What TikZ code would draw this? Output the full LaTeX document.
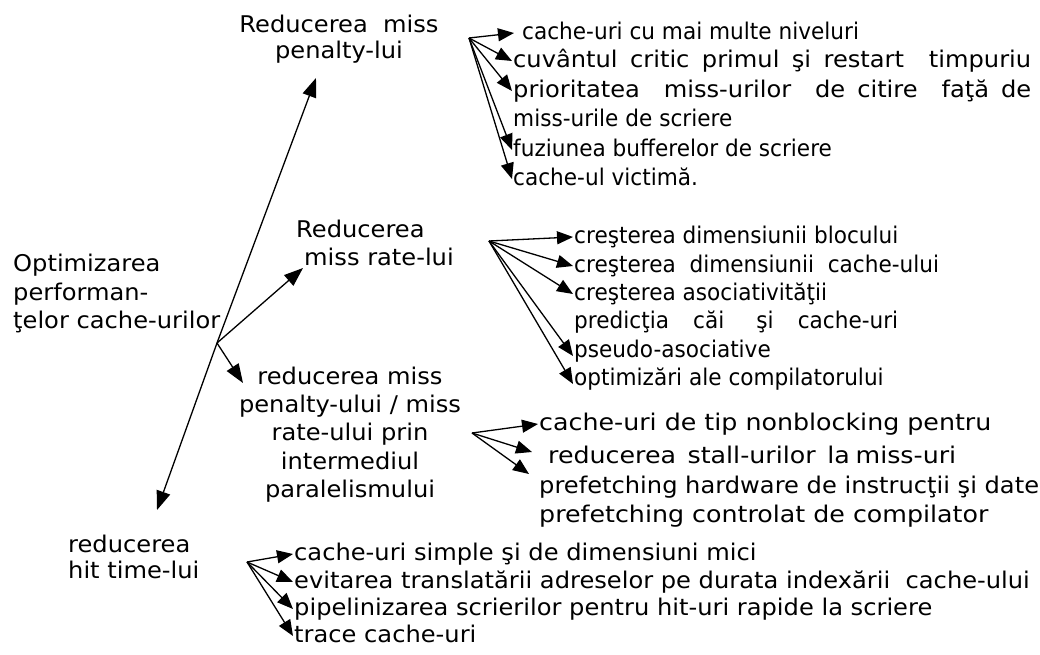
\documentclass[tikz,border=0pt]{standalone}
\usepackage{fontspec}
\setmainfont{DejaVu Sans}[FakeStretch=1.05]
\newfontfamily\narrowfont{DejaVu Sans}[FakeStretch=0.94]
\newfontfamily\widefont{DejaVu Sans}[FakeStretch=1.10]
\usetikzlibrary{arrows.meta}
\begin{document}
\begin{tikzpicture}[x=1pt,y=-1pt,
  every node/.style={inner sep=1pt,font=\fontsize{23}{28}\selectfont,
    text height=17pt,text depth=5pt},
  lt/.style={anchor=base west},
  ct/.style={anchor=base},
  narrow/.style={font=\fontsize{23}{28}\narrowfont},
  wide/.style={font=\fontsize{23}{28}\widefont},
  regular/.style={font=\fontsize{23}{28}\selectfont},
  link/.style={line width=1.3pt,-{Triangle[length=16pt,width=13pt]}},
  mainlink/.style={line width=1.3pt,-{Triangle[length=19pt,width=14pt]}}]
\useasboundingbox (0,0) rectangle (1040,654);

% branch labels
\node[ct] (rmp1) at (339,32) {Reducerea\ \ miss};
\node[ct] (rmp2) at (339,58) {penalty-lui};
\node[lt] (rmr1) at (295,237) {Reducerea};
\node[lt] (rmr2) at (303,265) {miss rate-lui};
\node[lt] (opt1) at (12,271) {Optimizarea};
\node[lt] (opt2) at (12,300) {performan-};
\node[lt] (opt3) at (12,328) {ţelor cache-urilor};
\node[ct] (par1) at (350,384) {reducerea miss};
\node[ct] (par2) at (350,412) {penalty-ului / miss};
\node[ct] (par3) at (350,440) {rate-ului prin};
\node[ct] (par4) at (350,469) {intermediul};
\node[ct] (par5) at (350,497) {paralelismului};
\node[lt] (hit1) at (67,552) {reducerea};
\node[lt] (hit2) at (67,578) {hit time-lui};

% miss penalty techniques
\begin{scope}[every node/.append style={narrow}]
\node[lt] (a1) at (521,39) {cache-uri cu mai multe niveluri};
\node[lt,regular] (a2) at (512,67) {\makebox[518pt][s]{cuvântul critic primul şi restart\ \ timpuriu}};
\node[lt,regular] (a3) at (512,97) {\makebox[518pt][s]{prioritatea\ \ miss-urilor\ \ de citire\ \ faţă de}};
\node[lt] (a4) at (512,126) {miss-urile de scriere};
\node[lt] (a5) at (512,156) {fuziunea bufferelor de scriere};
\node[lt] (a6) at (512,185) {cache-ul victimă.};

% miss rate techniques
\node[lt] (b1) at (573,243) {creşterea dimensiunii blocului};
\node[lt] (b2) at (573,272) {creşterea\ \ dimensiunii\ \ cache-ului};
\node[lt] (b3) at (573,300) {creşterea asociativităţii};
\node[lt] (b4) at (573,328) {\makebox[324pt][s]{predicţia\ \ \ căi\ \ \ \ şi\ \ \ cache-uri}};
\node[lt] (b5) at (573,357) {pseudo-asociative};
\node[lt] (b6) at (573,385) {optimizări ale compilatorului};
\end{scope}

% parallelism techniques
\begin{scope}[every node/.append style={wide}]
\node[lt] (c1) at (538,430) {cache-uri de tip nonblocking pentru};
\node[lt] (c2) at (547,463) {\makebox[408pt][s]{reducerea\ \ stall-urilor\ \ la miss-uri}};
\node[lt,regular] (c3) at (538,493) {prefetching hardware de instrucţii şi date};
\node[lt] (c4) at (538,522) {prefetching controlat de compilator};
\end{scope}

% hit time techniques
\node[lt] (d1) at (293,560) {cache-uri simple şi de dimensiuni mici};
\node[lt] (d2) at (293,588) {evitarea translatării adreselor pe durata indexării\ \ cache-ului};
\node[lt] (d3) at (293,615) {pipelinizarea scrierilor pentru hit-uri rapide la scriere};
\node[lt] (d4) at (293,642) {trace cache-uri};

% branching points
\coordinate (hub) at (217,343);
\coordinate (tmp) at (316,78);
\coordinate (tmr) at (303,268);
\coordinate (tpar) at (243,383);
\coordinate (thit) at (157,510);
\coordinate (fa) at (469,38);
\coordinate (fb) at (489,241);
\coordinate (fc) at (472,433);
\coordinate (fd) at (247,562);

\draw[mainlink] (hub) -- (tmp);
\draw[mainlink] (hub) -- (thit);
\draw[mainlink] (hub) -- (tmr);
\draw[mainlink] (hub) -- (tpar);

\draw[link] (fa) -- ([xshift=-7pt]a1.west);
\foreach \n in {a2,a3,a5,a6} \draw[link] (fa) -- (\n.west);
\foreach \n in {b1,b2,b3} \draw[link] (fb) -- (\n.west);
\foreach \n in {b5,b6} \draw[link] (fb) -- ([yshift=-5pt]\n.west);
\draw[link] (fc) -- (c1.west);
\draw[link] (fc) -- ([xshift=-15pt,yshift=5pt]c2.west);
\draw[link] (fc) -- ([xshift=-9pt,yshift=13pt]c3.west);
\foreach \n in {d1,d2,d3,d4} \draw[link] (fd) -- (\n.west);
\end{tikzpicture}
\end{document}
